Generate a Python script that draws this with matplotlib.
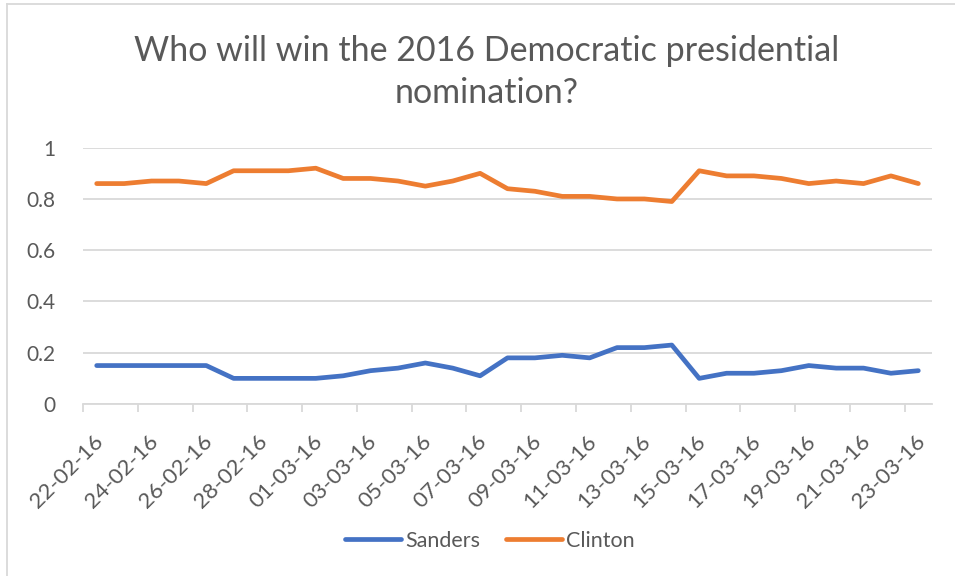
import matplotlib.pyplot as plt
from matplotlib.lines import Line2D
import matplotlib.transforms as mtransforms
import numpy as np

plt.rcParams['font.family'] = ['Lato', 'DejaVu Sans']

dates = ['22-02-16', '23-02-16', '24-02-16', '25-02-16', '26-02-16', '27-02-16',
         '28-02-16', '29-02-16', '01-03-16', '02-03-16', '03-03-16', '04-03-16',
         '05-03-16', '06-03-16', '07-03-16', '08-03-16', '09-03-16', '10-03-16',
         '11-03-16', '12-03-16', '13-03-16', '14-03-16', '15-03-16', '16-03-16',
         '17-03-16', '18-03-16', '19-03-16', '20-03-16', '21-03-16', '22-03-16',
         '23-03-16']
sanders = [0.15, 0.15, 0.15, 0.15, 0.15, 0.10, 0.10, 0.10, 0.10, 0.11, 0.13,
           0.14, 0.16, 0.14, 0.11, 0.18, 0.18, 0.19, 0.18, 0.22, 0.22, 0.23,
           0.10, 0.12, 0.12, 0.13, 0.15, 0.14, 0.14, 0.12, 0.13]
clinton = [0.86, 0.86, 0.87, 0.87, 0.86, 0.91, 0.91, 0.91, 0.92, 0.88, 0.88,
           0.87, 0.85, 0.87, 0.90, 0.84, 0.83, 0.81, 0.81, 0.80, 0.80, 0.79,
           0.91, 0.89, 0.89, 0.88, 0.86, 0.87, 0.86, 0.89, 0.86]

grey = '#595959'
blue = '#4472C4'
orange = '#ED7D31'

fig = plt.figure(figsize=(9.55, 5.76), dpi=100)
ax = fig.add_axes([83/955, 1 - 404/576, (932-83)/955, (404-147.7)/576])

x = np.arange(len(dates)) + 0.5
ax.plot(x, sanders, color=blue, lw=3.4, solid_joinstyle='round', solid_capstyle='round')
ax.plot(x, clinton, color=orange, lw=3.4, solid_joinstyle='round', solid_capstyle='round')

ax.set_xlim(0, len(dates))
ax.set_ylim(0, 1)
ax.set_yticks([0, 0.2, 0.4, 0.6, 0.8, 1])
ax.set_yticklabels(['0', '0.2', '0.4', '0.6', '0.8', '1'])
ax.yaxis.grid(True, color='#d9d9d9', lw=1.3)
ax.set_axisbelow(True)
ax.tick_params(axis='y', length=0, pad=20, labelsize=15, labelcolor=grey)

ticks = np.arange(0, len(dates), 2)
ax.set_xticks(ticks)
ax.set_xticklabels([dates[i] for i in ticks], rotation=45, ha='right',
                   rotation_mode='anchor', fontsize=16, color=grey)
ax.tick_params(axis='x', length=6, width=1.3, color='#d9d9d9', pad=8)
shift = mtransforms.ScaledTranslation(10/100, -8/100, fig.dpi_scale_trans)
for lab in ax.get_xticklabels():
    lab.set_transform(lab.get_transform() + shift)

for s in ['left', 'right', 'top']:
    ax.spines[s].set_visible(False)
ax.spines['bottom'].set_color('#d9d9d9')
ax.spines['bottom'].set_linewidth(1.3)

fig.text(487/955, 1 - 72/576, 'Who will win the 2016 Democratic presidential\nnomination?',
         ha='center', va='center', fontsize=24.5, color=grey, linespacing=1.35)

handles = [Line2D([], [], color=blue, lw=3.4, solid_capstyle='round'),
           Line2D([], [], color=orange, lw=3.4, solid_capstyle='round')]
fig.legend(handles, ['Sanders', 'Clinton'], loc='center', bbox_to_anchor=(490/955, 1 - 541/576),
           ncol=2, frameon=False, fontsize=15.5, labelcolor=grey, handlelength=2.6,
           handletextpad=0.2, columnspacing=1.2)

# chart border (top and left visible)
fig.add_artist(Line2D([7/955, 7/955], [0, 1 - 4/576], transform=fig.transFigure,
                      color='#d9d9d9', lw=1.3))
fig.add_artist(Line2D([7/955, 1], [1 - 4/576, 1 - 4/576], transform=fig.transFigure,
                      color='#d9d9d9', lw=1.3))

fig.savefig('out.png', dpi=100)
